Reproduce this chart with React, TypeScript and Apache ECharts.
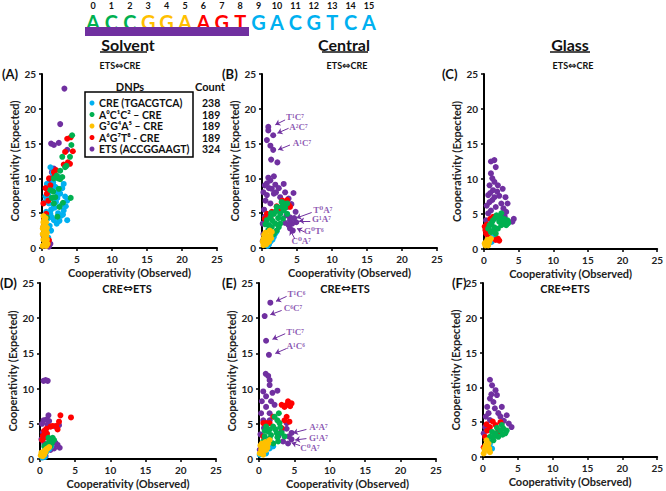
import { useEffect, useRef } from "react";
import * as echarts from "echarts";

// ---------- sequence header ----------
const sequence = ["A","C","C","G","G","A","A","G","T","G","A","C","G","T","C","A"];
const seqGroup = [0,0,0,1,1,1,2,2,2,3,3,3,3,3,3,3];
const columnTitles = ["Solvent", "Central", "Glass"];
const panelLabels = ["(A)", "(B)", "(C)", "(D)", "(E)", "(F)"];
const pairTitles = [["ETS", "CRE"], ["CRE", "ETS"]];
const axisTicks = [0, 5, 10, 15, 20, 25];
const legendNames = ["CRE (TGACGTCA)", "A⁰C¹C² – CRE", "G³G⁴A⁵ – CRE", "A⁶G⁷T⁸ - CRE", "ETS (ACCGGAAGT)"];
const legendCounts = [238, 189, 189, 189, 324];

const BLUE = "#00b0f0", GREEN = "#00b050", YELLOW = "#ffc000", RED = "#ff0000", PURPLE = "#7030a0";
const seqColors = [GREEN, YELLOW, RED, BLUE];

// ---------- data: [observed, expected] ----------
// Panel A (Solvent, ETS<->CRE)
const aPurple = [[3.2,22.9],[2.6,17.8],[1.3,15.0],[1.7,14.8],[2.4,15.1],[3.6,14.1],[1.7,11.4],[1.6,10.5],[1.1,9.7],[1.4,10.9],[1.3,8.7],[0.6,4.3],[0.3,3.6],[0.5,2.4],[0.9,1.2],[1.2,0.6],[0.4,0.3],[1.0,0.2],[0.2,1.8],[0.8,3.0]];
const aBlue = [[0.7,9.2],[1.2,11.6],[1.5,10.8],[2.4,10.2],[3.1,9.2],[1.9,8.8],[2.6,7.8],[3.6,6.8],[3.1,5.4],[3.6,4.0],[1.4,4.4],[0.7,3.0],[2.1,3.5],[1.0,6.4],[1.3,5.5],[0.9,7.6],[1.5,7.2],[2.0,6.6],[2.3,5.0],[1.7,4.0],[1.1,3.2],[0.5,2.0],[0.9,1.5],[1.3,2.5],[2.8,6.2],[3.3,7.4],[2.1,8.0],[1.8,5.8],[0.6,5.2],[2.7,4.6],[3.4,6.0],[1.0,8.4],[1.6,9.4],[0.4,6.6],[1.2,4.9],[0.8,4.2],[2.5,3.9],[3.0,4.8],[2.2,7.2],[1.6,6.2],[0.5,7.4],[2.9,8.6]];
const aRed = [[4.1,15.9],[3.6,15.7],[3.3,13.8],[4.4,13.9],[4.0,12.1],[3.1,12.0],[3.7,12.3],[1.7,10.9],[1.0,10.0],[1.2,9.0],[0.7,7.8],[0.2,6.4],[0.6,4.9],[0.3,4.0],[1.0,1.1],[0.8,0.5],[0.2,3.0],[1.8,10.3],[2.0,11.2],[0.5,8.6],[0.9,6.8]];
const aGreen = [[4.3,16.2],[4.2,14.8],[4.0,13.1],[2.9,13.1],[3.3,11.6],[2.6,11.1],[2.1,10.4],[2.9,10.2],[1.7,10.0],[4.1,7.2],[1.2,8.3],[1.6,8.1],[1.9,7.3],[0.7,4.4],[1.7,6.4],[2.5,5.9],[2.3,10.0],[2.6,9.9],[3.5,11.8],[2.4,8.5],[1.4,7.2],[2.2,4.5],[3.0,6.5]];
const aYellow = [[0.1,0.3],[0.3,0.5],[0.5,0.8],[0.2,1.2],[0.4,1.5],[0.6,1.8],[0.1,2.0],[0.3,2.3],[0.5,2.6],[0.7,2.9],[0.2,3.1],[0.4,3.4],[0.6,3.7],[0.3,4.0],[0.5,4.3],[0.2,4.6],[0.7,1.2],[0.8,0.6],[0.1,2.8],[0.6,0.3],[0.4,2.0],[0.7,2.2],[0.2,3.7],[0.5,3.1]];

// Panel B (Central, ETS<->CRE)
const bPurple = [[0.9,17.4],[0.9,16.9],[1.6,16.2],[0.7,15.5],[1.2,14.7],[1.6,14.1],[1.3,12.7],[2.2,12.3],[1.7,10.3],[1.2,9.7],[0.7,9.3],[1.9,9.1],[3.1,9.2],[1.4,8.5],[2.4,8.6],[0.7,7.6],[1.7,7.8],[3.3,8.0],[4.5,7.9],[2.6,7.3],[3.8,7.1],[1.2,6.4],[3.6,5.9],[4.8,5.2],[4.0,4.4],[4.6,4.3],[4.9,3.7],[4.3,3.5],[4.0,4.0],[4.4,2.5],[4.0,2.8],[3.8,3.3],[0.2,2.0],[0.1,3.5],[0.3,5.5],[0.5,6.8],[0.2,8.0],[0.4,9.0],[0.1,1.0],[3.3,3.6],[4.2,6.3],[2.9,6.6],[1.0,8.6],[2.0,8.0],[0.9,10.1],[0.4,4.5],[3.5,4.7]];
const bBlue = [[1.2,0.9],[1.7,1.6],[1.9,2.1],[1.0,0.5],[1.5,1.2],[2.1,2.4],[0.8,0.3]];
const bRed = [[2.9,6.8],[3.6,6.9],[4.0,5.9],[0.7,4.9],[1.4,5.2],[2.4,5.4],[1.2,4.4],[3.2,6.6],[2.1,6.0],[0.4,4.2],[3.8,6.2]];
const bGreen = [[3.1,6.4],[2.1,5.9],[1.2,4.4],[1.7,4.9],[2.6,4.9],[0.7,4.0],[1.9,3.5],[3.1,5.4],[3.6,4.9],[2.1,2.5],[1.4,3.0],[2.6,3.5],[1.0,3.3],[3.6,6.4],[2.3,4.3],[1.5,3.9],[2.8,5.9],[3.3,5.8],[2.0,5.3],[0.9,2.6],[1.7,2.0],[2.4,3.0],[3.0,4.2],[1.3,5.0],[0.5,3.4],[2.8,6.6]];
const bYellow = [[0.2,0.4],[0.7,1.1],[1.2,1.8],[1.4,2.3],[0.1,0.9],[0.4,1.5],[0.6,0.5],[0.9,1.4],[0.3,1.9],[1.1,2.5],[0.5,2.2],[0.8,0.8],[0.2,1.3],[1.0,0.9],[0.6,1.7],[1.3,1.4]];

// Panel C (Glass, ETS<->CRE)
const cPurple = [[1.5,12.7],[1.0,12.5],[1.7,11.7],[1.0,10.8],[1.2,10.1],[1.5,9.6],[0.8,9.1],[2.0,9.1],[2.7,8.6],[1.3,8.4],[0.6,7.7],[1.5,7.4],[3.1,7.4],[0.8,6.7],[2.5,6.5],[3.4,6.5],[1.0,5.5],[1.7,6.0],[3.2,5.3],[4.3,4.3],[4.1,3.9],[0.6,5.1],[0.3,4.1],[1.2,7.0],[2.2,7.6],[0.9,8.0],[2.8,5.8],[1.9,8.2],[0.4,6.2],[3.0,4.6]];
const cBlue = [[0.8,1.2],[1.3,1.7],[0.6,0.8],[1.1,1.0],[1.5,1.4]];
const cRed = [[0.2,2.7],[0.3,2.2],[1.3,4.6],[2.0,1.5],[2.2,1.2],[0.6,1.7],[0.1,3.2],[0.9,4.3],[1.7,1.3],[0.4,3.5]];
const cGreen = [[2.5,5.1],[2.0,4.6],[2.9,4.3],[3.4,4.1],[1.3,4.1],[0.8,3.4],[1.5,3.1],[2.5,3.4],[3.2,3.4],[1.0,2.4],[1.7,2.2],[2.2,3.9],[1.8,4.8],[3.0,3.8],[1.1,3.7],[2.7,4.0],[1.4,2.7],[2.0,2.9],[0.6,2.9],[2.3,4.6],[3.5,3.7],[1.6,4.4]];
const cYellow = [[0.1,0.8],[0.3,1.0],[0.8,1.2],[0.6,0.5],[1.0,1.5],[0.2,0.5],[0.5,1.3],[0.4,0.7],[0.7,0.9]];

// Panel D (Solvent, CRE<->ETS)
const dPurple = [[0.5,11.1],[1.1,11.1],[0.8,11.2],[1.2,6.2],[0.5,5.5],[0.9,5.6],[1.3,5.4],[0.3,5.0],[2.2,4.6],[2.7,4.8],[0.2,2.8],[0.6,2.2],[2.2,2.3],[2.5,2.0],[2.8,1.6],[1.5,1.3],[2.0,1.5],[0.8,0.4],[1.1,4.9],[0.4,3.8]];
const dBlue = [[0.5,0.5],[0.9,1.0],[1.3,1.4],[0.3,0.2],[1.6,1.8],[0.7,0.3]];
const dRed = [[4.4,5.9],[2.9,6.2],[2.7,5.3],[2.3,4.7],[1.8,4.7],[1.5,4.6],[0.9,4.3],[0.6,4.0],[0.4,3.3],[0.6,3.0],[1.0,3.6],[2.5,4.2],[0.3,2.7]];
const dGreen = [[1.0,2.1],[1.5,2.8],[1.8,3.0],[1.3,2.5],[0.8,2.0],[1.7,2.3],[1.2,3.0],[0.6,1.8],[2.0,2.7],[1.5,1.8]];
const dYellow = [[0.1,0.5],[0.3,0.8],[0.5,1.0],[0.7,1.2],[0.9,1.4],[1.1,1.5],[0.4,0.4],[0.2,0.9],[0.6,0.6],[1.3,1.7],[0.8,1.0]];

// Panel E (Central, CRE<->ETS)
const ePurple = [[1.6,22.2],[0.8,20.3],[1.0,16.8],[1.4,14.8],[0.95,12.1],[1.3,11.8],[1.5,11.2],[1.5,10.5],[0.6,9.6],[2.6,9.7],[1.0,8.9],[1.7,8.2],[1.0,7.4],[2.2,7.7],[0.3,6.5],[1.5,6.5],[0.6,5.5],[1.5,5.5],[3.9,5.1],[4.6,3.7],[4.6,2.8],[4.1,2.2],[3.4,2.5],[2.7,3.2],[0.1,1.3],[0.2,3.5],[0.4,8.2],[3.9,4.3],[4.2,3.2],[3.2,4.0],[0.7,4.4],[1.9,9.4]];
const eBlue = [[0.6,1.0],[1.5,1.5],[2.0,1.8],[1.0,0.8],[0.1,0.6],[1.8,2.3]];
const eRed = [[4.1,8.2],[4.6,7.9],[3.6,7.4],[3.2,7.7],[1.5,5.1],[0.6,5.1],[1.0,5.1],[3.6,5.5],[4.3,5.3],[3.9,6.0],[3.2,4.4],[2.0,6.0],[0.6,3.2],[3.9,7.7],[4.4,7.5]];
const eGreen = [[2.8,6.5],[2.6,5.5],[2.0,4.6],[1.3,3.9],[0.8,3.2],[2.9,5.1],[2.5,3.7],[1.5,2.9],[3.2,3.7],[0.6,2.5],[2.7,2.5],[3.6,3.2],[1.0,4.6],[2.2,6.0],[1.7,3.4],[2.3,4.2],[3.0,4.5],[1.1,2.4],[2.0,2.2],[2.6,3.1],[1.5,4.2],[0.8,4.0]];
const eYellow = [[0.1,0.8],[0.3,1.3],[0.8,1.8],[1.3,2.2],[1.5,2.7],[0.6,0.6],[1.0,1.3],[0.2,1.9],[0.5,1.0],[1.2,1.6],[0.9,2.4],[0.4,2.2],[0.7,1.5]];

// Panel F (Glass, CRE<->ETS)
const fPurple = [[1.0,11.1],[1.3,10.3],[1.8,9.6],[2.0,8.9],[1.0,8.4],[1.5,7.9],[0.6,7.2],[2.7,7.2],[2.2,6.3],[0.8,6.3],[3.4,6.0],[1.0,5.3],[3.7,4.8],[4.1,4.3],[0.3,4.3],[0.1,3.4],[1.2,9.0],[1.7,7.0],[2.5,5.8],[0.4,5.8],[3.0,5.2]];
const fBlue = [[0.6,1.4],[1.0,1.9],[1.3,1.2],[0.8,1.0]];
const fRed = [[1.0,4.3],[1.8,4.6],[2.5,5.0],[0.6,3.8],[0.3,2.9],[2.2,3.6],[0.1,1.4],[1.4,5.1],[0.5,4.7]];
const fGreen = [[1.0,2.9],[1.8,3.4],[2.5,3.8],[2.9,4.1],[2.2,2.9],[3.2,3.4],[1.5,2.4],[0.8,2.2],[2.7,4.6],[3.4,3.8],[1.3,3.6],[2.0,4.2],[2.8,3.2],[1.6,3.0]];
const fYellow = [[0.3,1.0],[0.6,1.4],[0.8,1.9],[1.0,0.7],[0.1,0.5],[0.5,2.4],[0.4,1.7],[0.9,1.2],[0.2,1.2]];

const panelData = [
  { purple: aPurple, blue: aBlue, red: aRed, green: aGreen, yellow: aYellow },
  { purple: bPurple, blue: bBlue, red: bRed, green: bGreen, yellow: bYellow },
  { purple: cPurple, blue: cBlue, red: cRed, green: cGreen, yellow: cYellow },
  { purple: dPurple, blue: dBlue, red: dRed, green: dGreen, yellow: dYellow },
  { purple: ePurple, blue: eBlue, red: eRed, green: eGreen, yellow: eYellow },
  { purple: fPurple, blue: fBlue, red: fRed, green: fGreen, yellow: fYellow },
];

// annotations: label, label position, arrow start, arrow end (data coords)
const bNotes = [
  { label: "T¹C⁷", at: [4.7, 18.8], from: [3.3, 18.4], to: [1.9, 17.7] },
  { label: "A²C⁷", at: [5.2, 17.4], from: [3.8, 17.2], to: [2.2, 16.5] },
  { label: "A¹C⁷", at: [5.7, 15.1], from: [4.0, 14.8], to: [2.3, 14.1] },
  { label: "T⁰A⁷", at: [8.7, 5.5], from: [7.1, 5.1], to: [4.9, 4.3] },
  { label: "G¹A⁷", at: [8.5, 4.1], from: [6.9, 3.9], to: [5.3, 3.9] },
  { label: "G⁰T⁶", at: [7.4, 2.4], from: [6.1, 2.3], to: [5.0, 2.8] },
  { label: "C⁰A⁷", at: [5.6, 1.0], from: [4.7, 1.3], to: [4.0, 2.6] },
];
const eNotes = [
  { label: "T¹C⁶", at: [5.3, 23.4], from: [3.9, 23.1], to: [2.4, 22.4] },
  { label: "C⁶C⁷", at: [4.8, 21.4], from: [3.2, 21.1], to: [1.6, 20.5] },
  { label: "T¹C⁷", at: [5.1, 18.1], from: [3.7, 17.8], to: [1.9, 17.0] },
  { label: "A¹C⁶", at: [5.2, 16.0], from: [3.9, 15.7], to: [2.3, 15.0] },
  { label: "A²A⁷", at: [8.4, 4.5], from: [6.7, 4.2], to: [4.8, 3.7] },
  { label: "G¹A⁷", at: [8.4, 3.0], from: [6.7, 2.9], to: [5.1, 2.7] },
  { label: "C⁰A⁷", at: [7.2, 1.5], from: [5.8, 1.9], to: [4.6, 2.3] },
];
const panelNotes = [null, bNotes, null, null, eNotes, null];

// ---------- layout ----------
const grids = [
  { left: 42, top: 74, width: 175, height: 174 },
  { left: 262, top: 74, width: 175, height: 174 },
  { left: 484, top: 74, width: 177, height: 175 },
  { left: 40, top: 283, width: 176, height: 176 },
  { left: 259, top: 283, width: 177, height: 176 },
  { left: 483, top: 283, width: 175, height: 174 },
];
const labelPos = [[2, 74], [222, 74], [442, 74], [0, 283], [222, 283], [452, 283]];
const pairPos = [[120, 65], [347, 65], [573, 65], [127, 288], [345, 288], [565, 288]];
const titlePos = [[128, 44, 100, 147], [344, 44, 322, 368], [570, 44, 550, 590]];

const FONT = "Lato, 'Open Sans', sans-serif";

export default function App() {
  const ref = useRef<HTMLDivElement>(null);
  useEffect(() => {
    if (!ref.current) return;
    const chart = echarts.init(ref.current, null, { renderer: "svg" });

    const xAxes: any[] = [];
    const yAxes: any[] = [];
    const series: any[] = [];
    grids.forEach((g, i) => {
      const axisCommon = {
        gridIndex: i, type: "value", min: axisTicks[0], max: axisTicks[axisTicks.length - 1], interval: 5,
        splitLine: { show: false },
        axisLine: { show: true, onZero: false, lineStyle: { color: "#000", width: 2 } },
        axisTick: { show: true, inside: false, length: 3, lineStyle: { color: "#000", width: 1.5 } },
        axisLabel: { color: "#222", fontSize: 10, fontWeight: "bold", fontFamily: FONT },
        nameLocation: "middle",
        nameTextStyle: { color: "#222", fontSize: 11, fontWeight: "bold", fontFamily: FONT },
      };
      xAxes.push({ ...axisCommon, name: "Cooperativity (Observed)", nameGap: 19, axisLabel: { ...axisCommon.axisLabel, margin: 6 } });
      yAxes.push({ ...axisCommon, name: "Cooperativity (Expected)", nameGap: 20, nameRotate: 90, axisLabel: { ...axisCommon.axisLabel, margin: 6 } });
      const d = panelData[i];
      const groups: [string, number[][]][] = [
        [PURPLE, d.purple], [BLUE, d.blue], [RED, d.red], [GREEN, d.green], [YELLOW, d.yellow],
      ];
      groups.forEach(([color, pts]) => {
        series.push({
          type: "scatter", xAxisIndex: i, yAxisIndex: i, data: pts, symbolSize: 6,
          itemStyle: { color, opacity: 1 }, silent: true,
        });
      });
      const notes = panelNotes[i];
      if (notes) {
        series.push({
          type: "scatter", xAxisIndex: i, yAxisIndex: i, symbolSize: 1,
          itemStyle: { color: "rgba(0,0,0,0)" }, silent: true,
          data: notes.map((n) => ({ value: n.at, name: n.label })),
          label: {
            show: true, position: "inside", formatter: "{b}", color: PURPLE,
            fontFamily: "'Liberation Serif', 'DejaVu Serif', serif", fontSize: 9, fontWeight: "bold",
          },
          labelLayout: { hideOverlap: false },
          markLine: {
            silent: true, symbol: ["none", "arrow"], symbolSize: 5, animation: false,
            label: { show: false },
            lineStyle: { color: PURPLE, width: 1, type: "solid" },
            data: notes.map((n) => [{ coord: n.from }, { coord: n.to }]),
          },
        });
      }
    });

    const graphics: any[] = [];
    // sequence header
    sequence.forEach((ch, i) => {
      const x = 93 + 18.4 * i;
      graphics.push({ type: "text", x, y: 22, style: { text: ch, fill: seqColors[seqGroup[i]], font: `bold 20px ${FONT}`, textAlign: "center", textVerticalAlign: "middle" } });
      graphics.push({ type: "text", x, y: 5.5, style: { text: String(i), fill: "#111", font: `bold 9px ${FONT}`, textAlign: "center", textVerticalAlign: "middle" } });
    });
    graphics.push({ type: "rect", shape: { x: 85, y: 27, width: 164, height: 9 }, style: { fill: PURPLE } });
    // column titles
    columnTitles.forEach((t, i) => {
      const [cx, cy, u1, u2] = titlePos[i];
      graphics.push({ type: "text", x: cx, y: cy, style: { text: t, fill: "#111", font: `bold 16px ${FONT}`, textAlign: "center", textVerticalAlign: "middle" } });
      graphics.push({ type: "line", shape: { x1: u1, y1: 52, x2: u2, y2: 52 }, style: { stroke: "#111", lineWidth: 1.5 } });
    });
    // panel labels & pair titles
    panelLabels.forEach((t, i) => {
      graphics.push({ type: "text", x: labelPos[i][0], y: labelPos[i][1], style: { text: t, fill: "#111", font: `bold 13px ${FONT}`, textVerticalAlign: "middle" } });
      const row = i < 3 ? 0 : 1;
      const fs = row === 0 ? 9 : 11;
      const [p1, p2] = pairTitles[row];
      graphics.push({
        type: "text", x: pairPos[i][0], y: pairPos[i][1],
        style: {
          text: `{t|${p1}}{a|⇔}{t|${p2}}`, textAlign: "center", textVerticalAlign: "middle",
          rich: {
            t: { fill: "#111", fontSize: fs, fontWeight: "bold", fontFamily: FONT },
            a: { fill: "#111", fontSize: fs + 1, fontWeight: "bold", fontFamily: "'DejaVu Sans', sans-serif" },
          },
        },
      });
    });
    // legend
    graphics.push({ type: "rect", shape: { x: 85, y: 92, width: 108, height: 65 }, style: { fill: "#fff", stroke: "#000", lineWidth: 1.5 } });
    graphics.push({ type: "text", x: 130, y: 86, style: { text: "DNPs", fill: "#111", font: `bold 11px ${FONT}`, textAlign: "center", textVerticalAlign: "middle" } });
    graphics.push({ type: "text", x: 210, y: 86, style: { text: "Count", fill: "#111", font: `bold 11px ${FONT}`, textAlign: "center", textVerticalAlign: "middle" } });
    const legendColors = [BLUE, GREEN, YELLOW, RED, PURPLE];
    legendNames.forEach((n, i) => {
      const y = 103 + i * 11.5;
      graphics.push({ type: "circle", shape: { cx: 92, cy: y, r: 2.5 }, style: { fill: legendColors[i] } });
      graphics.push({ type: "text", x: 99, y, style: { text: n, fill: "#111", font: `bold 10.5px ${FONT}`, textVerticalAlign: "middle" } });
      graphics.push({ type: "text", x: 202, y, style: { text: String(legendCounts[i]), fill: "#111", font: `bold 10.5px ${FONT}`, textVerticalAlign: "middle" } });
    });

    chart.setOption({
      animation: false,
      backgroundColor: "#fff",
      grid: grids.map((g) => ({ ...g, containLabel: false })),
      xAxis: xAxes,
      yAxis: yAxes,
      series,
      graphic: graphics,
    });
    return () => chart.dispose();
  }, []);
  return <div ref={ref} style={{ width: 666, height: 491, position: "absolute", left: 0, top: 0 }} />;
}
